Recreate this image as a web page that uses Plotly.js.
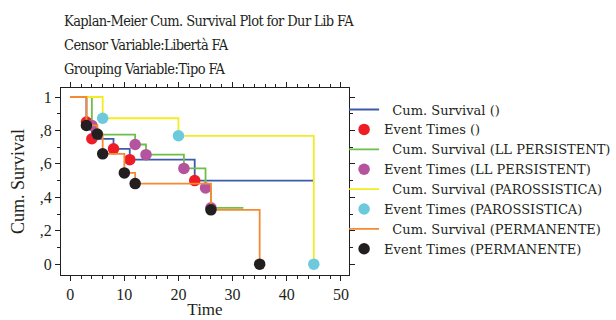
<!DOCTYPE html>
<html>
<head>
<meta charset="utf-8">
<script src="https://cdn.plot.ly/plotly-3.0.1.min.js"></script>
<style>html,body{margin:0;padding:0;background:#fff;}#chart{width:616px;height:320px;}
#chart .annotation-text{letter-spacing:-0.6px;}</style>
</head>
<body>
<div id="chart"></div>
<script>
// Group "" (blank)
const blankTimes = [0, 3, 4, 8, 11, 23, 45];
const blankSurv  = [1, 0.85, 0.75, 0.69, 0.625, 0.50, 0.50];
const blankEventTimes = [3, 4, 8, 11, 23];
const blankEventSurv  = [0.85, 0.75, 0.69, 0.625, 0.50];
// LL PERSISTENT
const llTimes = [0, 4, 5, 12, 14, 21, 25, 26, 32];
const llSurv  = [1, 0.83, 0.775, 0.716, 0.655, 0.573, 0.456, 0.337, 0.337];
const llEventTimes = [4, 5, 12, 14, 21, 25, 26];
const llEventSurv  = [0.83, 0.775, 0.716, 0.655, 0.573, 0.456, 0.337];
// PAROSSISTICA
const parTimes = [0, 6, 20, 45];
const parSurv  = [1, 0.873, 0.768, 0];
const parEventTimes = [6, 20, 45];
const parEventSurv  = [0.873, 0.768, 0];
// PERMANENTE
const permTimes = [0, 3, 5, 6, 10, 12, 26, 35];
const permSurv  = [1, 0.83, 0.778, 0.66, 0.546, 0.482, 0.325, 0];
const permEventTimes = [3, 5, 6, 10, 12, 26, 35];
const permEventSurv  = [0.83, 0.778, 0.66, 0.546, 0.482, 0.325, 0];

const yTickVals = [0, 0.2, 0.4, 0.6, 0.8, 1];
const yTickText = ["0", ",2", ",4", ",6", ",8", "1"];
const xTickVals = [0, 10, 20, 30, 40, 50];

const groups = [
  {label: "", t: blankTimes, s: blankSurv, et: blankEventTimes, es: blankEventSurv, line: "#3d5ba8", dot: "#ee1c25"},
  {label: "LL PERSISTENT", t: llTimes, s: llSurv, et: llEventTimes, es: llEventSurv, line: "#6cbf47", dot: "#b5539e"},
  {label: "PAROSSISTICA", t: parTimes, s: parSurv, et: parEventTimes, es: parEventSurv, line: "#f4ec22", dot: "#6ccadc"},
  {label: "PERMANENTE", t: permTimes, s: permSurv, et: permEventTimes, es: permEventSurv, line: "#f58a33", dot: "#231f20"}
];

const traces = [];
groups.forEach(g => {
  traces.push({
    x: g.t, y: g.s, type: "scatter", mode: "lines",
    line: {shape: "hv", color: g.line, width: 1.8},
    name: "\u00a0\u00a0Cum. Survival (" + g.label + ")"
  });
  traces.push({
    x: g.et, y: g.es, type: "scatter", mode: "markers",
    marker: {color: g.dot, size: 11.5},
    name: "Event Times (" + g.label + ")"
  });
});

const font = "Liberation Serif, DejaVu Serif, serif";
const legFont = "DejaVu Serif, serif";
const titleFont = "DejaVu Serif Condensed, Liberation Serif, serif";
const layout = {
  width: 616, height: 320,
  margin: {l: 61, r: 267, t: 88, b: 45, autoexpand: false},
  paper_bgcolor: "#fff", plot_bgcolor: "#fff",
  font: {family: font, size: 15, color: "#231f20"},
  showlegend: true,
  legend: {x: 0.983, xanchor: "left", y: 0.965, yanchor: "top", font: {family: legFont, size: 13, color: "#231f20"},
           tracegroupgap: 0, itemwidth: 30, bgcolor: "rgba(0,0,0,0)"},
  xaxis: {range: [-1.7, 51.5], tickvals: xTickVals, ticks: "outside", ticklen: 5, tickcolor: "#231f20",
          showline: true, linecolor: "#231f20", linewidth: 1, mirror: "ticks", showgrid: false, zeroline: false,
          minor: {dtick: 2, ticks: "outside", ticklen: 3, tickcolor: "#231f20"},
          title: {text: "Time", font: {family: font, size: 17}, standoff: 0},
          tickfont: {family: font, size: 16}},
  yaxis: {range: [-0.065, 1.054], tickvals: yTickVals, ticktext: yTickText, ticks: "outside", ticklen: 5, tickcolor: "#231f20",
          showline: true, linecolor: "#231f20", linewidth: 1, mirror: "ticks", showgrid: false, zeroline: false,
          minor: {dtick: 0.1, ticks: "outside", ticklen: 3, tickcolor: "#231f20"},
          title: {text: "Cum. Survival", font: {family: font, size: 18}, standoff: 10},
          tickfont: {family: font, size: 16}},
  annotations: [
    {text: "Kaplan-Meier Cum. Survival Plot for Dur Lib FA", x: 62, y: 21},
    {text: "Censor Variable:Libertà FA", x: 62, y: 45},
    {text: "Grouping Variable:Tipo FA", x: 62, y: 69}
  ].map(a => ({text: a.text, xref: "paper", yref: "paper", align: "left",
               x: (a.x - 61) / 288, y: (275 - a.y) / 187, xanchor: "left", yanchor: "middle",
               showarrow: false, font: {family: titleFont, size: 14.5, color: "#231f20"}}))
};

Plotly.newPlot("chart", traces, layout, {displayModeBar: false, staticPlot: true});
</script>
</body>
</html>
